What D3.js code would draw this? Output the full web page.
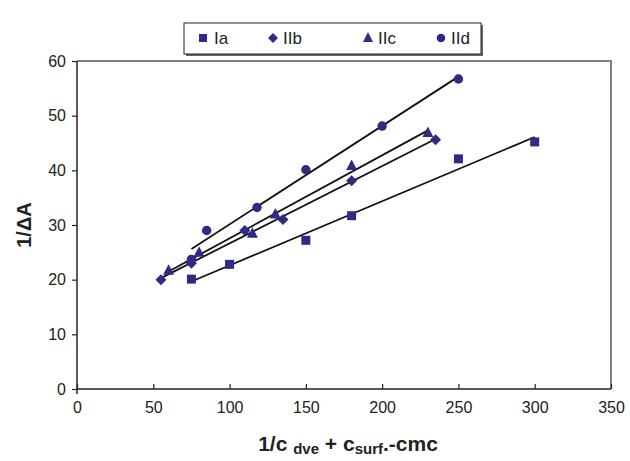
<!DOCTYPE html>
<html><head><meta charset="utf-8">
<script src="https://cdn.jsdelivr.net/npm/d3@7"></script>
<style>body{margin:0;background:#fff;} svg{display:block;font-family:"Liberation Sans",Arial,sans-serif;}</style>
</head><body><svg id="c" width="630" height="461"></svg>
<script>
const seriesNames = ["Ia","IIb","IIc","IId"];
const seriesShapes = ["square","diamond","triangle","circle"];
const xIa  = [75, 100, 150, 180, 250, 300];
const yIa  = [20.1, 22.8, 27.2, 31.7, 42.1, 45.2];
const xIIb = [55, 75, 110, 135, 180, 235];
const yIIb = [20.0, 23.0, 29.0, 31.0, 38.1, 45.6];
const xIIc = [60, 80, 115, 130, 180, 230];
const yIIc = [21.7, 25.0, 28.5, 32.0, 40.9, 46.9];
const xIId = [75, 85, 118, 150, 200, 250];
const yIId = [23.7, 29.0, 33.2, 40.1, 48.1, 56.7];
const xTicks = [0,50,100,150,200,250,300,350];
const yTicks = [0,10,20,30,40,50,60];

const xs = [xIa,xIIb,xIIc,xIId], ys=[yIa,yIIb,yIIc,yIId];
const color = "#2f2a86";
const svg = d3.select("#c");
const L=77,R=611,T=61,B=389;
const x = d3.scaleLinear().domain([0,350]).range([L,R]);
const y = d3.scaleLinear().domain([0,60]).range([B,T]);

svg.append("path").attr("d",`M${L},${T}H${R}V${B}`).attr("fill","none").attr("stroke","#555").attr("stroke-width",1.5);

const yAx = svg.append("g").attr("transform",`translate(${L},0)`)
  .call(d3.axisLeft(y).tickValues(yTicks).tickSize(5).tickPadding(6).tickFormat(d3.format("d")));
const xAx = svg.append("g").attr("transform",`translate(0,${B})`)
  .call(d3.axisBottom(x).tickValues(xTicks).tickSize(-5).tickPadding(13).tickFormat(d3.format("d")));
[yAx,xAx].forEach(g=>{
  g.select(".domain").attr("stroke","#222").attr("stroke-width",1.5);
  g.selectAll(".tick line").attr("stroke","#222").attr("stroke-width",1.2);
  g.selectAll("text").attr("font-size",16).attr("fill","#222").attr("font-family","Liberation Sans, Arial, sans-serif");
});
xAx.select(".domain").attr("d",`M${L},0H${R}`);
yAx.select(".domain").attr("d",`M0,${T}V${B+5}`);

xs.forEach((xv,i)=>{
  const yv=ys[i], n=xv.length;
  const mx=d3.mean(xv), my=d3.mean(yv);
  let sxy=0,sxx=0; for(let k=0;k<n;k++){sxy+=(xv[k]-mx)*(yv[k]-my);sxx+=(xv[k]-mx)**2;}
  const b=sxy/sxx, a=my-b*mx;
  const x0=d3.min(xv), x1=d3.max(xv);
  svg.append("line").attr("x1",x(x0)).attr("y1",y(a+b*x0)).attr("x2",x(x1)).attr("y2",y(a+b*x1))
    .attr("stroke","#111").attr("stroke-width",1.8);
});

function marker(g,shape,cx,cy){
  if(shape==="square") g.append("rect").attr("x",cx-4.5).attr("y",cy-4.5).attr("width",9).attr("height",9).attr("fill",color);
  else if(shape==="diamond") g.append("path").attr("d",`M${cx},${cy-5.5}L${cx+5.5},${cy}L${cx},${cy+5.5}L${cx-5.5},${cy}Z`).attr("fill",color);
  else if(shape==="triangle") g.append("path").attr("d",`M${cx},${cy-6}L${cx+5.5},${cy+4.5}L${cx-5.5},${cy+4.5}Z`).attr("fill",color);
  else g.append("circle").attr("cx",cx).attr("cy",cy).attr("r",4.7).attr("fill",color);
}
xs.forEach((xv,i)=>{
  const g=svg.append("g");
  xv.forEach((v,k)=>marker(g,seriesShapes[i],x(v),y(ys[i][k])));
});

const lg=svg.append("g");
lg.append("rect").attr("x",186).attr("y",25).attr("width",297).attr("height",31).attr("fill","#666");
lg.append("rect").attr("x",184).attr("y",23).attr("width",297).attr("height",31).attr("fill","#fff").attr("stroke","#222").attr("stroke-width",1);
const lx=[203,273,368,441], tx=[214,283,378,451];
seriesNames.forEach((s,i)=>{
  if(seriesShapes[i]==="square") lg.append("rect").attr("x",lx[i]-4).attr("y",38-4).attr("width",8).attr("height",8).attr("fill",color);
  else if(seriesShapes[i]==="diamond") lg.append("path").attr("d",`M${lx[i]},${33}L${lx[i]+5},${38}L${lx[i]},${43}L${lx[i]-5},${38}Z`).attr("fill",color);
  else if(seriesShapes[i]==="triangle") lg.append("path").attr("d",`M${lx[i]},${32}L${lx[i]+5},${42}L${lx[i]-5},${42}Z`).attr("fill",color);
  else lg.append("circle").attr("cx",lx[i]).attr("cy",38).attr("r",4.3).attr("fill",color);
  lg.append("text").attr("x",tx[i]).attr("y",44).attr("font-size",17).attr("fill","#222").text(s);
});

svg.append("text").attr("transform","translate(31,225) rotate(-90)").attr("text-anchor","middle")
  .attr("font-size",20).attr("font-weight","bold").attr("fill","#222").text("1/\u0394A");
const xt=svg.append("text").attr("x",348).attr("y",451).attr("text-anchor","middle")
  .attr("font-weight","bold").attr("fill","#222").attr("font-size",21);
xt.append("tspan").text("1/c ");
xt.append("tspan").attr("font-size",15).attr("dy",3).text("dve");
xt.append("tspan").attr("dy",-3).text(" + c");
xt.append("tspan").attr("font-size",15).attr("dy",3).text("surf");
xt.append("tspan").attr("dy",-3).text(".-cmc");
</script></body></html>
